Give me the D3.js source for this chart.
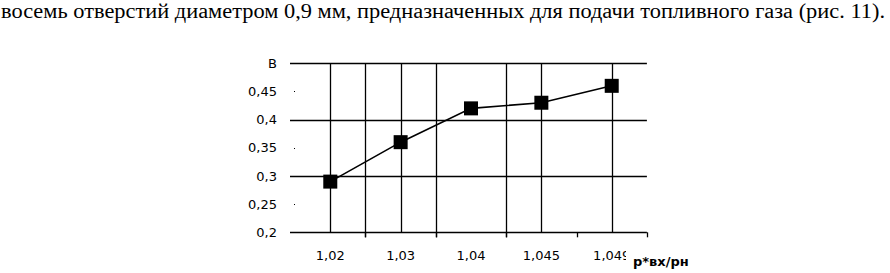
<!DOCTYPE html>
<html><head><meta charset="utf-8">
<script src="https://cdn.jsdelivr.net/npm/d3@7"></script>
<style>html,body{margin:0;padding:0;background:#fff;}svg{display:block;}</style>
</head><body>
<svg id="c" width="890" height="273"></svg>
<script>
const headerText = "восемь отверстий диаметром 0,9 мм, предназначенных для подачи топливного газа (рис. 11).";
const categories = ["1,02", "1,03", "1,04", "1,045", "1,049"];
const values = [0.29, 0.36, 0.42, 0.43, 0.46];
const yTickValues = [0.2, 0.25, 0.3, 0.35, 0.4, 0.45, 0.5];
const yTickLabels = ["0,2", "0,25", "0,3", "0,35", "0,4", "0,45", "В"];
const yGridValues = [0.2, 0.3, 0.4, 0.5];
const yMinorValues = [0.25, 0.35, 0.45];
const xGridAtCenter = ["1,02", "1,03", "1,045", "1,049"];
const xGridAtStart = ["1,03", "1,04", "1,045"];
const xTickAtStart = ["1,03", "1,04", "1,045", "1,049"];
const xTitle = "р*вх/рн";

const svg = d3.select("#c");
svg.append("rect").attr("width", 890).attr("height", 273).attr("fill", "#fff");

svg.append("text")
  .attr("x", 1).attr("y", 18)
  .attr("font-family", "Liberation Serif, Times New Roman, serif")
  .attr("font-size", 20)
  .attr("textLength", 884).attr("lengthAdjust", "spacingAndGlyphs")
  .attr("fill", "#000")
  .text(headerText);

const x = d3.scaleBand().domain(categories).range([295.1, 646.9]).padding(0);
const y = d3.scaleLinear().domain([0.2, 0.5]).range([232.3, 63.3]);
const g = svg.append("g");

g.selectAll("line.hg").data(yGridValues).join("line")
  .attr("x1", 290).attr("x2", x.range()[1])
  .attr("y1", d => Math.round(y(d)) + 0.5).attr("y2", d => Math.round(y(d)) + 0.5)
  .attr("stroke", "#000").attr("stroke-width", 1.3);

g.selectAll("rect.md").data(yMinorValues).join("rect")
  .attr("x", 294).attr("y", d => Math.round(y(d)))
  .attr("width", 1).attr("height", 1).attr("fill", "#000");

g.selectAll("line.vc").data(xGridAtCenter).join("line")
  .attr("x1", d => Math.round(x(d) + x.bandwidth() / 2) + 0.5)
  .attr("x2", d => Math.round(x(d) + x.bandwidth() / 2) + 0.5)
  .attr("y1", y(0.5)).attr("y2", y(0.2))
  .attr("stroke", "#000").attr("stroke-width", 1.3);

g.selectAll("line.vs").data(xGridAtStart).join("line")
  .attr("x1", d => Math.round(x(d)) + 0.5).attr("x2", d => Math.round(x(d)) + 0.5)
  .attr("y1", y(0.5)).attr("y2", y(0.2) + 5)
  .attr("stroke", "#000").attr("stroke-width", 1.3);

const tickXs = xTickAtStart.map(d => x(d)).concat([x.range()[1]]);
g.selectAll("line.tk").data(tickXs).join("line")
  .attr("x1", d => Math.round(d) + 0.5).attr("x2", d => Math.round(d) + 0.5)
  .attr("y1", y(0.2)).attr("y2", y(0.2) + 5)
  .attr("stroke", "#000").attr("stroke-width", 1.3);

g.selectAll("text.yl").data(yTickValues).join("text")
  .attr("x", 277).attr("y", d => y(d)).attr("dy", "0.36em")
  .attr("text-anchor", "end")
  .attr("font-family", "DejaVu Sans, Verdana, sans-serif").attr("font-size", 13)
  .attr("fill", "#000")
  .text((d, i) => yTickLabels[i]);

g.selectAll("text.xl").data(categories).join("text")
  .attr("x", d => x(d) + x.bandwidth() / 2).attr("y", 259.5)
  .attr("text-anchor", "middle")
  .attr("font-family", "DejaVu Sans, Verdana, sans-serif").attr("font-size", 13)
  .attr("fill", "#000")
  .text(d => d);

const pts = categories.map((c, i) => [x(c) + x.bandwidth() / 2, y(values[i])]);
g.append("path").attr("d", d3.line()(pts))
  .attr("fill", "none").attr("stroke", "#000").attr("stroke-width", 1.6);

g.selectAll("rect.mk").data(pts).join("rect")
  .attr("x", d => d[0] - 7).attr("y", d => d[1] - 7)
  .attr("width", 14).attr("height", 14).attr("fill", "#000");

g.append("rect").attr("x", 626).attr("y", 247).attr("width", 75).attr("height", 24).attr("fill", "#fff");
g.append("text").attr("x", 633).attr("y", 265.5)
  .attr("font-family", "DejaVu Sans, Verdana, sans-serif").attr("font-size", 13)
  .attr("font-weight", "bold").attr("fill", "#000")
  .text(xTitle);
</script>
</body></html>
